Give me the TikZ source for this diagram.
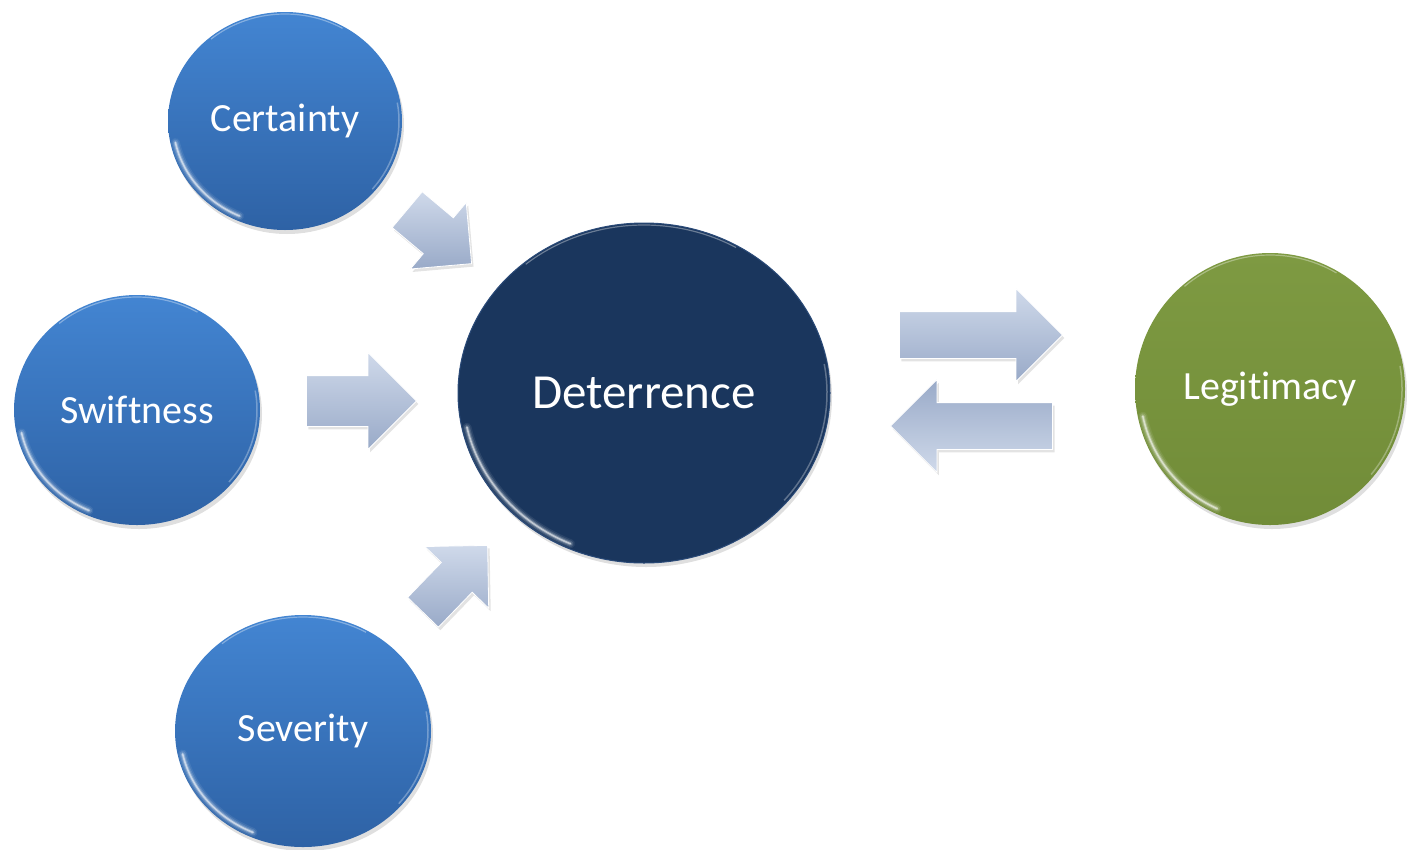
\documentclass[tikz,border=0pt]{standalone}
\usepackage{fontspec}
\setmainfont{Carlito}[Ligatures=NoCommon]
\usetikzlibrary{shapes.geometric,shapes.arrows,shadows}

\definecolor{bubbleTop}{HTML}{4385D2}
\definecolor{bubbleBot}{HTML}{2E62A5}
\definecolor{coreFill}{HTML}{1A365D}
\definecolor{coreRim}{HTML}{2A4A78}
\definecolor{greenTop}{HTML}{7E9A42}
\definecolor{greenBot}{HTML}{718C38}
\definecolor{arrowTop}{HTML}{CFD9EA}
\definecolor{arrowBot}{HTML}{99AAC8}

% light bevel on the lower-left edge of a bubble: node, x radius, y radius
\newcommand\bevelglint[3]{%
  \foreach \w/\o in {9/0.08,6/0.14,3.5/0.25,1.6/0.55}{%
    \draw[white, line width=\w pt, opacity=\o, line cap=round]
      (#1.center) ++(192:{#2-5} and {#3-5})
      arc[start angle=192, end angle=246, x radius=#2-5, y radius=#3-5];
  }%
  \draw[white, line width=1.2pt, opacity=0.35]
    (#1.center) ++(60:{#2-2} and {#3-2})
    arc[start angle=60, end angle=130, x radius=#2-2, y radius=#3-2];
  \draw[white, line width=1.5pt, opacity=0.3]
    (#1.center) ++(-40:{#2-3} and {#3-3})
    arc[start angle=-40, end angle=10, x radius=#2-3, y radius=#3-3];
}

\begin{document}
\begin{tikzpicture}[x=1pt, y=1pt,
  bubble/.style={ellipse, inner sep=0pt, text=white,
    drop shadow={opacity=0.25, shadow xshift=2pt, shadow yshift=-4pt}},
  bluebubble/.style={bubble, top color=bubbleTop, bottom color=bubbleBot,
    font=\fontsize{40}{48}\selectfont},
  corebubble/.style={bubble, fill=coreFill, draw=coreRim, line width=1pt,
    font=\fontsize{49}{58}\selectfont},
  greenbubble/.style={bubble, top color=greenTop, bottom color=greenBot,
    font=\fontsize{40}{48}\selectfont},
  flow/.style={single arrow, single arrow tip angle=90, inner sep=0pt, anchor=tip,
    top color=arrowTop, bottom color=arrowBot, draw=white, line width=0.8pt,
    drop shadow={opacity=0.22, shadow xshift=2pt, shadow yshift=-3pt}},
]
\useasboundingbox (0,0) rectangle (1407,-849);

% bubbles
\node[bluebubble, minimum width=234, minimum height=218] (cert)  at (285,-121) {Certainty};
\node[bluebubble, minimum width=246, minimum height=230] (swift) at (137,-410) {Swiftness};
\node[bluebubble, minimum width=256, minimum height=232] (sev)   at (303,-731) {Severity};
\node[corebubble, minimum width=372, minimum height=340] (det)   at (644,-393) {Deterrence};
\node[greenbubble, minimum width=270, minimum height=272] (legit) at (1270,-389) {Legitimacy};

\bevelglint{cert}{117}{109}
\bevelglint{swift}{123}{115}
\bevelglint{sev}{128}{116}
\bevelglint{det}{186}{170}
\bevelglint{legit}{135}{136}

% block arrows, each placed by its tip
\node[flow, rotate=-40, minimum height=84, inner ysep=23, single arrow head extend=20] (toDetA) at (472,-264) {};
\node[flow, minimum height=110, inner ysep=25, single arrow head extend=23] (toDetB) at (417,-401) {};
\node[flow, rotate=46, minimum height=93, inner ysep=21, single arrow head extend=23] (toDetC) at (488,-545) {};
\node[flow, minimum height=163, inner ysep=23, single arrow head extend=23] (toLegit) at (1063,-335) {};
\node[flow, rotate=180, shading angle=180, minimum height=162, inner ysep=23, single arrow head extend=23] (toDet) at (890,-426) {};
\end{tikzpicture}
\end{document}
